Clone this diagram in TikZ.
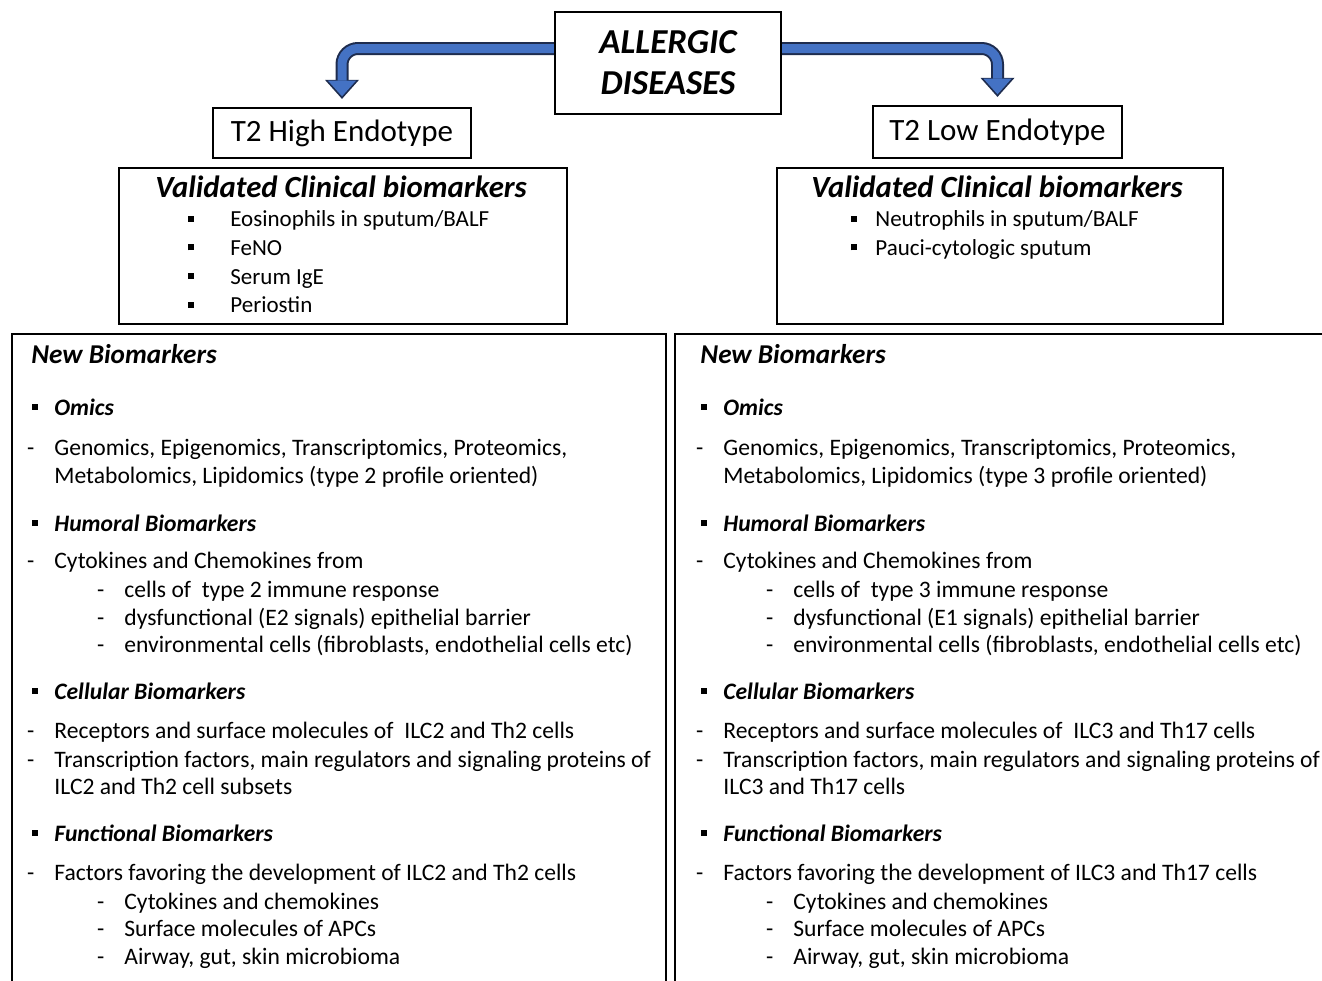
\documentclass[tikz,border=0pt]{standalone}
\usepackage{fontspec}
\setmainfont{Carlito}
\usetikzlibrary{arrows.meta}
\definecolor{arrowblue}{RGB}{68,114,196}
\definecolor{arrowedge}{RGB}{30,44,78}
% square bullet and dash, hung left of the text
\newcommand\bsq[1][.7em]{\llap{\rule[.22em]{.26em}{.26em}\hspace{#1}}}
\newcommand\dsh{\llap{-\hspace{.85em}}}
\tikzset{
  box/.style={draw, line width=1.1pt, inner sep=0pt},
  body/.style={anchor=base west, inner sep=0pt, font=\fontsize{11.8}{14}\selectfont},
  head/.style={body, font=\fontsize{11.8}{14}\selectfont\bfseries\itshape},
  title/.style={body, font=\fontsize{13.6}{16}\selectfont\bfseries\itshape},
  arrowout/.style={line width=6.5pt, draw=arrowedge, rounded corners=8pt,
    -{Triangle[length=9.5pt, width=17pt, line width=0pt]}},
  arrowin/.style={line width=4.5pt, draw=arrowblue, rounded corners=8pt, shorten >=1.3pt,
    -{Triangle[length=7.8pt, width=14pt, line width=0pt, fill=arrowblue]}}
}
\begin{document}
\begin{tikzpicture}[x=0.5pt, y=-0.5pt]
\useasboundingbox (0,0) rectangle (1322,980);
\clip (0,0) rectangle (1322,980);

% top row
\node[box, minimum width=113pt, minimum height=51pt, align=center,
  font=\fontsize{17.5}{20.5}\selectfont\bfseries\itshape] (dis) at (668,63) {ALLERGIC\\DISEASES};
\node[box, minimum width=129pt, minimum height=25pt, font=\fontsize{15.5}{18}\selectfont] (high) at (342,133) {T2 High Endotype};
\node[box, minimum width=124.5pt, minimum height=26pt, font=\fontsize{15.5}{18}\selectfont] (low) at (997.5,132) {T2 Low Endotype};

\draw[arrowout] ([yshift=7.25pt]dis.west) -| ([yshift=4pt]high.north);
\draw[arrowin] ([yshift=7.25pt]dis.west) -| ([yshift=4pt]high.north);
\draw[arrowout] ([yshift=7.25pt]dis.east) -| ([yshift=4pt]low.north);
\draw[arrowin] ([yshift=7.25pt]dis.east) -| ([yshift=4pt]low.north);

% validated biomarkers
\node[box, anchor=north west, minimum width=224pt, minimum height=78pt] (valL) at (118,167) {};
\node[box, anchor=north west, minimum width=223pt, minimum height=78pt] (valR) at (776,167) {};
\node[anchor=base, inner sep=0pt, font=\fontsize{15.4}{18}\selectfont\bfseries\itshape] (valLt) at (341,197) {Validated Clinical biomarkers};
\node[anchor=base, inner sep=0pt, font=\fontsize{15.4}{18}\selectfont\bfseries\itshape] (valRt) at (997,197) {Validated Clinical biomarkers};
\foreach \t [count=\i] in {Eosinophils in sputum/BALF, FeNO, Serum IgE, Periostin}
  \node[body, font=\fontsize{11.5}{14}\selectfont] (valL\i) at (230,198+28.7*\i) {\bsq[1.6em]\t};
\foreach \t [count=\i] in {Neutrophils in sputum/BALF, Pauci-cytologic sputum}
  \node[body, font=\fontsize{11.5}{14}\selectfont] (valR\i) at (875,198+28.7*\i) {\bsq[.8em]\t};

% new biomarkers
\node[box, anchor=north west, minimum width=327pt, minimum height=360pt] (newL) at (11,333) {};
\node[box, anchor=north west, minimum width=340pt, minimum height=360pt] (newR) at (674,333) {};
\foreach \c/\dx/\ty/\sig/\cells/\subs in {L/0/2/E2/ILC2 and Th2/ILC2 and Th2 cell subsets,
                                          R/669/3/E1/ILC3 and Th17/ILC3 and Th17 cells} {
  \node[title] (nb\c) at (31+\dx,363) {New Biomarkers};
  \node[head] (om\c) at (54+\dx,415) {\bsq Omics};
  \node[body] (om\c a) at (54+\dx,455) {\dsh Genomics, Epigenomics, Transcriptomics, Proteomics,};
  \node[body] (om\c b) at (54+\dx,483) {Metabolomics, Lipidomics (type \ty\ profile oriented)};
  \node[head] (hu\c) at (54+\dx,531) {\bsq Humoral Biomarkers};
  \node[body] (hu\c a) at (54+\dx,568) {\dsh Cytokines and Chemokines from};
  \node[body] (hu\c b) at (124+\dx,597) {\dsh cells of \ type \ty\ immune response};
  \node[body] (hu\c c) at (124+\dx,625) {\dsh dysfunctional (\sig\ signals) epithelial barrier};
  \node[body] (hu\c d) at (124+\dx,652) {\dsh environmental cells (fibroblasts, endothelial cells etc)};
  \node[head] (ce\c) at (54+\dx,699) {\bsq Cellular Biomarkers};
  \node[body] (ce\c a) at (54+\dx,738) {\dsh Receptors and surface molecules of \ \cells\ cells};
  \node[body] (ce\c b) at (54+\dx,767) {\dsh Transcription factors, main regulators and signaling proteins of};
  \node[body] (ce\c c) at (54+\dx,794) {\subs};
  \node[head] (fu\c) at (54+\dx,841) {\bsq Functional Biomarkers};
  \node[body] (fu\c a) at (54+\dx,880) {\dsh Factors favoring the development of \cells\ cells};
  \node[body] (fu\c b) at (124+\dx,909) {\dsh Cytokines and chemokines};
  \node[body] (fu\c c) at (124+\dx,936) {\dsh Surface molecules of APCs};
  \node[body] (fu\c d) at (124+\dx,964) {\dsh Airway, gut, skin microbioma};
}
\end{tikzpicture}
\end{document}
